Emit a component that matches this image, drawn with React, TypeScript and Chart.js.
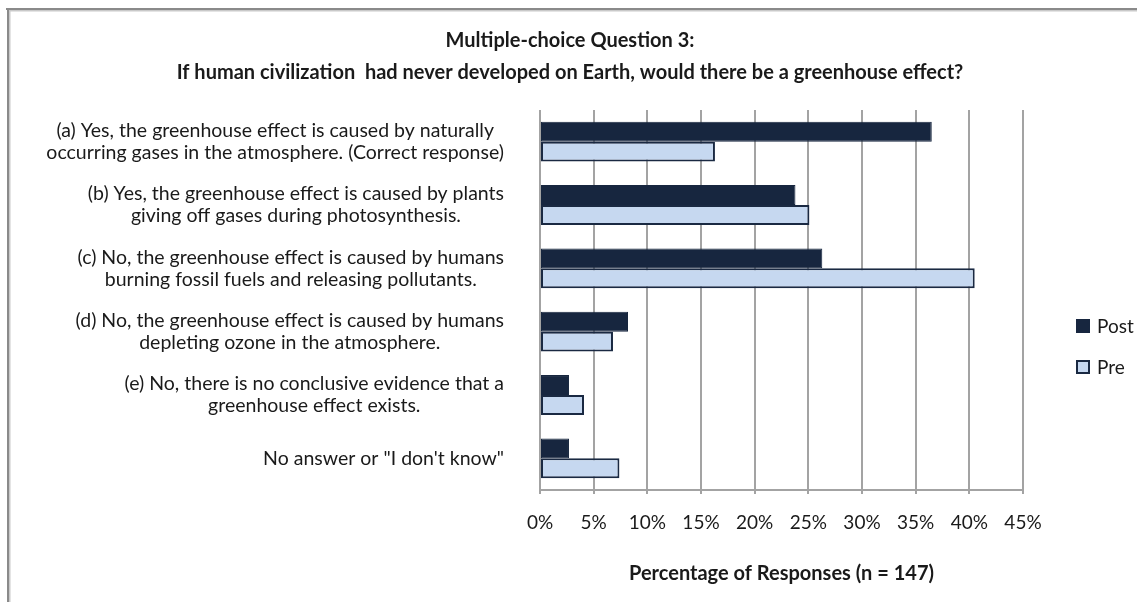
import React, { useEffect, useRef } from "react";
import { Chart, registerables } from "chart.js";

Chart.register(...registerables);

const FONT = "Lato, 'Open Sans', sans-serif";

const titleLines = [
  "Multiple-choice Question 3:",
  "If human civilization  had never developed on Earth, would there be a greenhouse effect?",
];

const categoryLines: string[][] = [
  ["(a) Yes, the greenhouse effect is caused by naturally", "occurring gases in the atmosphere. (Correct response)"],
  ["(b) Yes, the greenhouse effect is caused by plants", "giving off gases during photosynthesis."],
  ["(c) No, the greenhouse effect is caused by humans", "burning fossil fuels and releasing pollutants."],
  ["(d) No, the greenhouse effect is caused by humans", "depleting ozone in the atmosphere."],
  ["(e) No, there is no conclusive evidence that a", "greenhouse effect exists."],
  ["No answer or \"I don't know\""],
];

const seriesNames = ["Post", "Pre"];
const postValues = [36.5, 23.8, 26.3, 8.2, 2.7, 2.7];
const preValues = [16.3, 25.1, 40.5, 6.8, 4.1, 7.4];

const xMin = 0;
const xMax = 45;
const xStep = 5;
const xAxisTitle = "Percentage of Responses (n = 147)";

const POST_COLOR = "#17263f";
const PRE_COLOR = "#c6d8f0";
const EDGE_COLOR = "#1a2942";
const GRID_COLOR = "#a3a3a3";
const TEXT_COLOR = "#1a1a1a";

const framePlugin = {
  id: "frame",
  beforeDraw(chart: any) {
    const ctx = chart.ctx;
    const W = chart.width;
    const H = chart.height;
    ctx.save();
    ctx.fillStyle = "#ffffff";
    ctx.fillRect(0, 0, W, H);
    ctx.fillStyle = "#8a8a8a";
    ctx.fillRect(6, 8, W - 6, 2);
    ctx.fillRect(7, 8, 2, H - 8);
    ctx.fillStyle = "#c9c9c9";
    ctx.fillRect(9, 10, W - 9, 1.5);
    ctx.fillRect(9, 10, 1.5, H - 10);
    ctx.restore();
  },
};

const textPlugin = {
  id: "texts",
  afterDraw(chart: any) {
    const ctx = chart.ctx;
    const area = chart.chartArea;
    const yScale = chart.scales.y;
    ctx.save();
    ctx.fillStyle = TEXT_COLOR;
    ctx.textBaseline = "middle";
    ctx.textAlign = "center";

    // Title
    ctx.font = `bold 20px ${FONT}`;
    titleLines.forEach((t, i) => ctx.fillText(t, 570, 41 + i * 32));

    // Category labels (lines centred within a right-aligned block)
    ctx.font = `19.5px ${FONT}`;
    categoryLines.forEach((lines, i) => {
      const cy = yScale.getPixelForValue(i);
      const w = Math.max(...lines.map((l) => ctx.measureText(l).width));
      const cx = area.left - 36 - w / 2;
      lines.forEach((l, j) => {
        ctx.fillText(l, cx, cy + (j - (lines.length - 1) / 2) * 22);
      });
    });

    // Legend
    ctx.textAlign = "left";
    ctx.font = `19px ${FONT}`;
    chart.data.datasets.forEach((ds: any, i: number) => {
      const cy = 326 + i * 41;
      const bx = 1076;
      const s = 14;
      ctx.fillStyle = ds.backgroundColor;
      ctx.fillRect(bx, cy - s / 2, s, s);
      ctx.strokeStyle = ds.borderColor;
      ctx.lineWidth = 2;
      ctx.strokeRect(bx + 1, cy - s / 2 + 1, s - 2, s - 2);
      ctx.fillStyle = TEXT_COLOR;
      ctx.fillText(ds.label, 1097, cy + 1);
    });
    ctx.restore();
  },
};

export default function App() {
  const canvasRef = useRef<HTMLCanvasElement | null>(null);

  useEffect(() => {
    if (!canvasRef.current) return;
    const chart = new Chart(canvasRef.current, {
      type: "bar",
      data: {
        labels: categoryLines.map((l) => l.join(" ")),
        datasets: [
          {
            label: seriesNames[0],
            data: postValues,
            backgroundColor: POST_COLOR,
            borderColor: POST_COLOR,
            borderWidth: 1,
            borderSkipped: false,
            barPercentage: 1,
            categoryPercentage: 0.63,
          },
          {
            label: seriesNames[1],
            data: preValues,
            backgroundColor: PRE_COLOR,
            borderColor: EDGE_COLOR,
            borderWidth: 2,
            borderSkipped: false,
            barPercentage: 1,
            categoryPercentage: 0.63,
          },
        ],
      },
      options: {
        indexAxis: "y",
        animation: false,
        responsive: true,
        maintainAspectRatio: false,
        layout: { padding: { left: 540, right: 114, top: 110, bottom: 0 } },
        plugins: {
          legend: { display: false },
          title: { display: false },
          tooltip: { enabled: false },
        },
        scales: {
          x: {
            position: "bottom",
            min: xMin,
            max: xMax,
            afterFit: (scale: any) => {
              scale.height = 112;
            },
            ticks: {
              stepSize: xStep,
              callback: (v: any) => `${v}%`,
              font: { family: FONT, size: 19 },
              color: TEXT_COLOR,
              padding: 17,
              maxRotation: 0,
            },
            grid: {
              color: GRID_COLOR,
              lineWidth: 2,
              tickLength: 4,
              drawTicks: true,
            },
            border: { display: true, color: GRID_COLOR, width: 2 },
            title: {
              display: true,
              text: xAxisTitle,
              font: { family: FONT, size: 20, weight: "bold" },
              color: TEXT_COLOR,
              padding: { top: 0, bottom: 16 },
            },
          },
          y: {
            afterFit: (scale: any) => {
              scale.width = 0;
            },
            ticks: { display: false },
            grid: { display: false },
            border: { display: false },
          },
        },
      },
      plugins: [framePlugin, textPlugin],
    } as any);
    return () => chart.destroy();
  }, []);

  return (
    <div style={{ position: "fixed", left: 0, top: 0, width: 1137, height: 602 }}>
      <canvas ref={canvasRef} style={{ width: "100%", height: "100%" }} />
    </div>
  );
}
